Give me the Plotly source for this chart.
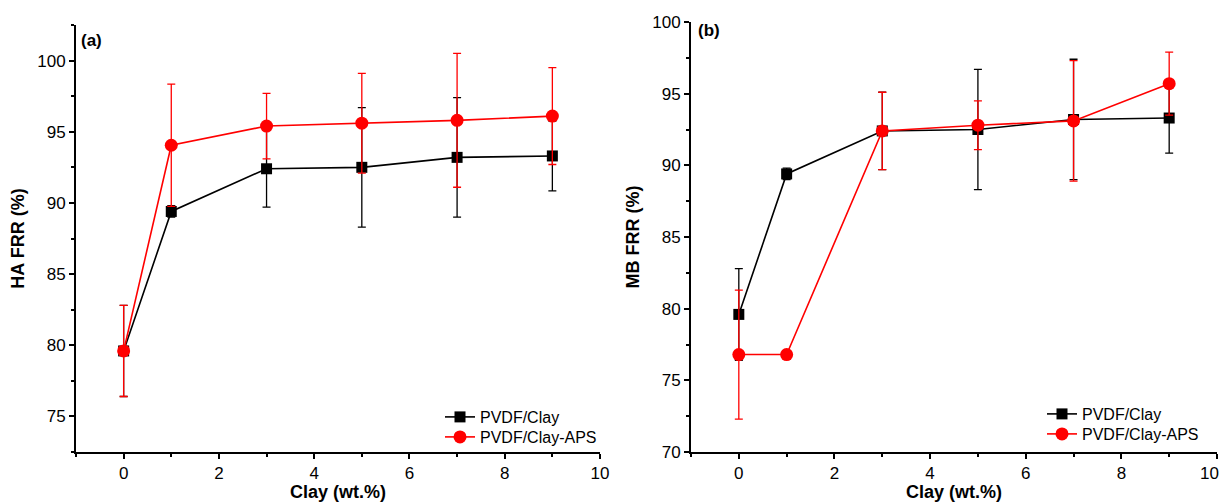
import plotly.graph_objects as go

clay = [0, 1, 3, 5, 7, 9]

# Panel (a) HA FRR
ha_clay = [79.6, 89.4, 92.4, 92.5, 93.2, 93.3]
ha_clay_err = [3.2, 0.4, 2.7, 4.2, 4.2, 2.45]
ha_aps = [79.6, 94.05, 95.4, 95.6, 95.8, 96.1]
ha_aps_err = [3.2, 4.3, 2.3, 3.5, 4.7, 3.4]

# Panel (b) MB FRR
mb_clay = [79.6, 89.4, 92.4, 92.5, 93.2, 93.3]
mb_clay_err = [3.2, 0.4, 2.7, 4.2, 4.2, 2.45]
mb_aps = [76.8, 76.8, 92.4, 92.8, 93.1, 95.7]
mb_aps_err = [4.5, 0.25, 2.7, 1.7, 4.2, 2.2]

names = ["PVDF/Clay", "PVDF/Clay-APS"]
x_ticks = [0, 2, 4, 6, 8, 10]

FONT = "Arial, Liberation Sans, sans-serif"
BLACK = "#000000"
RED = "#ff0000"

fig = go.Figure()


def add_series(x, y, err, color, symbol, size, name, xa, ya, legend):
    fig.add_trace(go.Scatter(
        x=x, y=y, mode="lines+markers", name=name, showlegend=True,
        line=dict(color=color, width=1.6),
        marker=dict(symbol=symbol, size=size, color=color),
        error_y=dict(type="data", array=err, visible=True, color=color,
                     thickness=1.3, width=4),
        xaxis=xa, yaxis=ya, legend=legend,
    ))


add_series(clay, ha_clay, ha_clay_err, BLACK, "square", 11, names[0], "x", "y", "legend")
add_series(clay, ha_aps, ha_aps_err, RED, "circle", 13, names[1], "x", "y", "legend2")
add_series(clay, mb_clay, mb_clay_err, BLACK, "square", 11, names[0], "x2", "y2", "legend3")
add_series(clay, mb_aps, mb_aps_err, RED, "circle", 13, names[1], "x2", "y2", "legend4")

W, H = 1222, 502

axis_common = dict(
    showline=True, linecolor="black", linewidth=2,
    ticks="outside", ticklen=5, tickwidth=2, tickcolor="black",
    showgrid=False, zeroline=False, mirror=False, automargin=False,
    tickfont=dict(family=FONT, size=17, color="black"),
    minor=dict(ticks="outside", ticklen=3, tickwidth=2, tickcolor="black", showgrid=False),
)
title_font = dict(family=FONT, size=18, color="black")


def leg(px, py):
    return dict(x=px / W, y=1 - py / H, xanchor="left", yanchor="middle",
                bgcolor="rgba(0,0,0,0)", font=dict(family=FONT, size=16),
                itemwidth=30, visible=True)


fig.update_layout(
    width=W, height=H,
    showlegend=True,
    margin=dict(l=0, r=0, t=0, b=0),
    paper_bgcolor="white", plot_bgcolor="white",
    font=dict(family=FONT, size=16, color="black"),
    xaxis=dict(domain=[76 / W, 600 / W], range=[-1, 10], tickvals=x_ticks,
               minor_dtick=1, minor_tick0=-1, anchor="y",
               title=dict(text="<b>Clay (wt.%)</b>", font=title_font, standoff=4),
               **axis_common),
    yaxis=dict(domain=[1 - 452 / H, 1 - 25 / H], range=[72.5, 102.5], dtick=5, tick0=75,
               minor_dtick=2.5, minor_tick0=72.5, anchor="x",
               title=dict(text="<b>HA FRR (%)</b>", font=title_font, standoff=8),
               **axis_common),
    xaxis2=dict(domain=[691 / W, 1217 / W], range=[-1, 10], tickvals=x_ticks,
                minor_dtick=1, minor_tick0=-1, anchor="y2",
                title=dict(text="<b>Clay (wt.%)</b>", font=title_font, standoff=4),
                **axis_common),
    yaxis2=dict(domain=[1 - 452 / H, 1 - 22 / H], range=[70, 100], dtick=5, tick0=70,
                minor_dtick=2.5, minor_tick0=70, anchor="x2",
                title=dict(text="<b>MB FRR (%)</b>", font=title_font, standoff=8),
                **axis_common),
    legend=leg(440, 417),
    legend2=leg(440, 437),
    legend3=leg(1042, 414),
    legend4=leg(1042, 434),
    annotations=[
        dict(text="<b>(a)</b>", x=79 / W, y=1 - 40 / H, xref="paper", yref="paper",
             xanchor="left", yanchor="middle", showarrow=False,
             font=dict(family=FONT, size=17, color="black")),
        dict(text="<b>(b)</b>", x=696 / W, y=1 - 31 / H, xref="paper", yref="paper",
             xanchor="left", yanchor="middle", showarrow=False,
             font=dict(family=FONT, size=17, color="black")),
        # last x tick label of panel (b): kept inside the page edge
        dict(text=str(x_ticks[-1]), x=1, xref="paper", y=1 - 473 / H, yref="paper",
             xanchor="right", yanchor="middle", showarrow=False, xshift=-1,
             font=dict(family=FONT, size=17, color="black")),
    ],
)

fig.write_html("out.html")
